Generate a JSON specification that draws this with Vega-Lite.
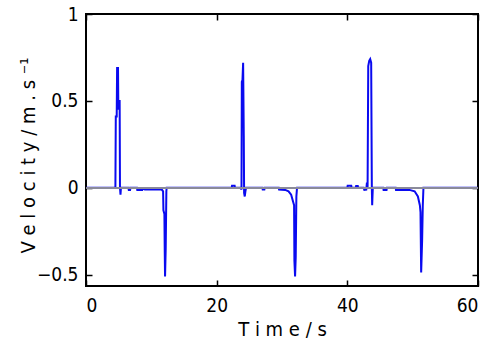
{
  "$schema": "https://vega.github.io/schema/vega-lite/v6.json",
  "width": 392,
  "height": 272,
  "autosize": "none",
  "padding": {"left": 86, "top": 14, "right": 26, "bottom": 61},
  "background": "white",
  "config": {
    "view": {"stroke": "black", "strokeWidth": 2},
    "font": "DejaVu Sans Condensed, Liberation Sans",
    "axis": {"grid": false, "domain": false, "zindex": 2, "tickColor": "black", "tickOpacity": 1, "tickSize": 6, "tickWidth": 1.5, "labelColor": "black", "labelFontSize": 19, "titleFontSize": 20, "titleFontWeight": "normal", "titleColor": "black"}
  },
  "data": {"values": [
    {"t": 0, "v": 0}, {"t": 4.5, "v": 0}, {"t": 4.56, "v": 0.41}, {"t": 4.7, "v": 0.41}, {"t": 4.76, "v": 0.69}, {"t": 4.9, "v": 0.69}, {"t": 4.95, "v": 0.45}, {"t": 5.05, "v": 0.5}, {"t": 5.15, "v": 0.5}, {"t": 5.2, "v": 0.0}, {"t": 5.28, "v": -0.04}, {"t": 5.35, "v": 0.0},
    {"t": 6.5, "v": 0}, {"t": 6.55, "v": -0.012}, {"t": 6.75, "v": -0.012}, {"t": 6.8, "v": 0}, {"t": 7.8, "v": 0}, {"t": 7.85, "v": -0.012}, {"t": 8.6, "v": -0.012}, {"t": 8.65, "v": -0.005},
    {"t": 9.0, "v": -0.01}, {"t": 9.8, "v": -0.01}, {"t": 10.5, "v": -0.01}, {"t": 11.3, "v": -0.01}, {"t": 11.6, "v": -0.01}, {"t": 11.8, "v": -0.02}, {"t": 11.85, "v": -0.13}, {"t": 12.0, "v": -0.15}, {"t": 12.05, "v": -0.36}, {"t": 12.1, "v": -0.51}, {"t": 12.2, "v": -0.35}, {"t": 12.3, "v": -0.02}, {"t": 12.35, "v": 0},
    {"t": 22.3, "v": 0}, {"t": 22.35, "v": 0.012}, {"t": 22.75, "v": 0.012}, {"t": 22.8, "v": 0},
    {"t": 23.7, "v": 0}, {"t": 23.8, "v": -0.01}, {"t": 23.85, "v": 0.61}, {"t": 23.95, "v": 0.62}, {"t": 24.05, "v": 0.72}, {"t": 24.15, "v": 0.3}, {"t": 24.2, "v": -0.03}, {"t": 24.3, "v": -0.05}, {"t": 24.4, "v": -0.02}, {"t": 24.5, "v": 0},
    {"t": 27.0, "v": 0}, {"t": 27.05, "v": -0.01}, {"t": 27.3, "v": -0.01}, {"t": 27.35, "v": 0},
    {"t": 29.5, "v": 0}, {"t": 29.55, "v": -0.01}, {"t": 30.5, "v": -0.012}, {"t": 31.0, "v": -0.02}, {"t": 31.4, "v": -0.04}, {"t": 31.7, "v": -0.08}, {"t": 31.85, "v": -0.1}, {"t": 31.9, "v": -0.42}, {"t": 32.0, "v": -0.51}, {"t": 32.1, "v": -0.4}, {"t": 32.2, "v": -0.05}, {"t": 32.3, "v": 0},
    {"t": 40.0, "v": 0}, {"t": 40.05, "v": 0.012}, {"t": 40.6, "v": 0.012}, {"t": 40.65, "v": 0}, {"t": 41.3, "v": 0}, {"t": 41.35, "v": 0.01}, {"t": 41.6, "v": 0.01}, {"t": 41.65, "v": 0},
    {"t": 42.5, "v": 0}, {"t": 42.6, "v": -0.012}, {"t": 42.9, "v": -0.01}, {"t": 43.0, "v": 0.03}, {"t": 43.1, "v": 0}, {"t": 43.2, "v": 0.7}, {"t": 43.35, "v": 0.73}, {"t": 43.5, "v": 0.74}, {"t": 43.65, "v": 0.72}, {"t": 43.75, "v": 0.0}, {"t": 43.8, "v": -0.1}, {"t": 43.9, "v": 0},
    {"t": 45.5, "v": 0}, {"t": 45.55, "v": -0.012}, {"t": 46.0, "v": -0.012}, {"t": 46.05, "v": 0},
    {"t": 47.4, "v": 0}, {"t": 47.45, "v": -0.012}, {"t": 49.5, "v": -0.012}, {"t": 50.3, "v": -0.02}, {"t": 50.8, "v": -0.05}, {"t": 51.1, "v": -0.1}, {"t": 51.2, "v": -0.14}, {"t": 51.3, "v": -0.487}, {"t": 51.45, "v": -0.3}, {"t": 51.55, "v": -0.1}, {"t": 51.65, "v": 0},
    {"t": 60, "v": 0}
  ]},
  "layer": [
    {
      "mark": {"type": "line", "color": "#0a0af0", "strokeWidth": 2, "clip": true},
      "encoding": {
        "x": {"field": "t", "type": "quantitative", "scale": {"domain": [0, 60], "nice": false},
          "axis": {"orient": "bottom", "values": [0, 20, 40, 60], "ticks": false, "title": "T i m e / s", "labelPadding": 10, "titleY": 43, "titleBaseline": "middle"}},
        "y": {"field": "v", "type": "quantitative", "scale": {"domain": [-0.565, 1], "nice": false, "zero": false},
          "axis": {"orient": "left", "values": [-0.5, 0, 0.5, 1], "ticks": false, "format": "~g", "title": "V e l o c i t y / m . s ⁻¹", "labelPadding": 8, "titleX": -58, "titleY": 141, "titleAngle": -90, "titleBaseline": "middle"}}
      }
    },
    {
      "mark": {"type": "rule", "color": "#8a8a9a", "strokeWidth": 1.5},
      "encoding": {"y": {"datum": 0, "type": "quantitative", "scale": {"domain": [-0.565, 1], "nice": false, "zero": false}, "axis": null}}
    },
    {
      "mark": {"type": "point", "opacity": 0},
      "encoding": {
        "x": {"field": "t", "type": "quantitative", "scale": {"domain": [0, 60], "nice": false},
          "axis": {"orient": "top", "offset": -6, "values": [0, 20, 40, 60], "ticks": true, "labels": false, "title": null}},
        "y": {"field": "v", "type": "quantitative", "scale": {"domain": [-0.565, 1], "nice": false, "zero": false},
          "axis": {"orient": "right", "offset": -6, "values": [-0.5, 0, 0.5, 1], "ticks": true, "labels": false, "title": null}}
      }
    },
    {
      "mark": {"type": "point", "opacity": 0},
      "encoding": {
        "x": {"field": "t", "type": "quantitative", "scale": {"domain": [0, 60], "nice": false},
          "axis": {"orient": "bottom", "offset": -6, "values": [0, 20, 40, 60], "ticks": true, "labels": false, "title": null}},
        "y": {"field": "v", "type": "quantitative", "scale": {"domain": [-0.565, 1], "nice": false, "zero": false},
          "axis": {"orient": "left", "offset": -6, "values": [-0.5, 0, 0.5, 1], "ticks": true, "labels": false, "title": null}}
      }
    }
  ],
  "resolve": {"scale": {"x": "independent", "y": "independent"}, "axis": {"x": "independent", "y": "independent"}}
}
